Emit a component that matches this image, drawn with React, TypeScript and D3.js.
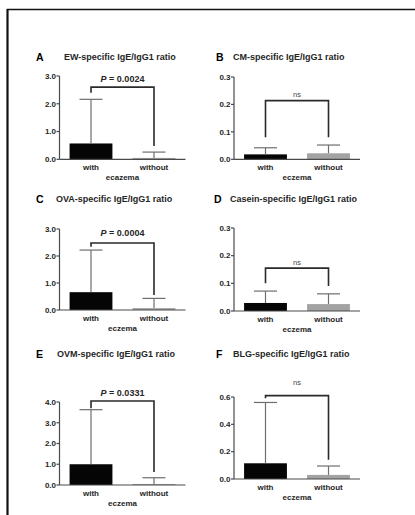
import React from 'react';
import * as d3 from 'd3';

// values
const LETTERS = ['A', 'B', 'C', 'D', 'E', 'F'];
const TITLES = [
  'EW-specific IgE/IgG1 ratio',
  'CM-specific IgE/IgG1 ratio',
  'OVA-specific IgE/IgG1 ratio',
  'Casein-specific IgE/IgG1 ratio',
  'OVM-specific IgE/IgG1 ratio',
  'BLG-specific IgE/IgG1 ratio',
];
const GROUPS = ['with', 'without'];
const GROUP_TITLES = ['ecazema', 'eczema', 'eczema', 'eczema', 'eczema', 'eczema'];
const MEANS = [[0.57, 0.05], [0.018, 0.022], [0.66, 0.07], [0.029, 0.025], [1.0, 0.05], [0.115, 0.03]];
const UPPER = [[2.16, 0.26], [0.042, 0.052], [2.22, 0.43], [0.072, 0.062], [3.63, 0.35], [0.56, 0.095]];
const Y_MAX = [3, 0.3, 3, 0.3, 4, 0.6];
const Y_TICKS = [
  [0, 1, 2, 3],
  [0, 0.1, 0.2, 0.3],
  [0, 1, 2, 3],
  [0, 0.1, 0.2, 0.3],
  [0, 1, 2, 3, 4],
  [0, 0.2, 0.4, 0.6],
];
const SIG_LABELS = ['P = 0.0024', 'ns', 'P = 0.0004', 'ns', 'P = 0.0331', 'ns'];
// bracket height, left leg end, right leg end
const BRACKETS = [[2.6, 2.4, 0.48], [0.214, 0.08, 0.08], [2.48, 2.34, 0.56], [0.155, 0.1, 0.09], [4.05, 3.7, 0.63], [0.61, 0.59, 0.14]];

// where each panel sits
const LAYOUT = [
  { x0: 59.5, yTop: 76, yBottom: 159.3, titleY: 60, letterX: 36, titleX: 64, sigDy: 5 },
  { x0: 234, yTop: 77, yBottom: 159.3, titleY: 60, letterX: 216, titleX: 233, sigDy: 4 },
  { x0: 59.5, yTop: 229, yBottom: 310, titleY: 202, letterX: 36, titleX: 56, sigDy: 7 },
  { x0: 234, yTop: 228, yBottom: 311, titleY: 202, letterX: 214, titleX: 230, sigDy: 3 },
  { x0: 59.5, yTop: 402, yBottom: 485, titleY: 357, letterX: 36, titleX: 57, sigDy: 5 },
  { x0: 234, yTop: 397, yBottom: 479, titleY: 357, letterX: 216, titleX: 233, sigDy: 11 },
];

const W = 415;
const H = 515;
const AXIS_W = 126;
const CAP = 23;
const FONT = "'Liberation Sans', Arial, sans-serif";
const BAR_COLORS = ['#050505', '#a3a3a3'];
const TEXT = '#262626';

function Panel({ i }: { i: number }) {
  const L = LAYOUT[i];
  const x = d3.scaleBand<string>()
    .domain(GROUPS)
    .range([L.x0, L.x0 + AXIS_W])
    .paddingInner(0.32)
    .paddingOuter(0.16);
  const y = d3.scaleLinear().domain([0, Y_MAX[i]]).range([L.yBottom, L.yTop]);
  const fmt = d3.format('.1f');
  const cx = (g: string) => (x(g) as number) + x.bandwidth() / 2;
  const [bY, legL, legR] = BRACKETS[i];
  const sig = SIG_LABELS[i];
  const isP = sig.startsWith('P');
  const midX = (cx(GROUPS[0]) + cx(GROUPS[1])) / 2;

  return (
    <g fontFamily={FONT}>
      <text x={L.letterX} y={L.titleY + 0.5} fontSize={10.5} fontWeight="bold" fill="#000">{LETTERS[i]}</text>
      <text x={L.titleX} y={L.titleY} fontSize={9} fontWeight="bold" fill={TEXT}>{TITLES[i]}</text>

      {GROUPS.map((g, j) => (
        <rect key={g} x={x(g)} y={y(MEANS[i][j])} width={x.bandwidth()}
          height={y(0) - y(MEANS[i][j])} fill={BAR_COLORS[j]} />
      ))}

      {GROUPS.map((g, j) => (
        <g key={g} stroke="#6e6e6e" strokeWidth={1.2}>
          <line x1={cx(g)} x2={cx(g)} y1={y(MEANS[i][j])} y2={y(UPPER[i][j])} />
          <line x1={cx(g) - CAP / 2} x2={cx(g) + CAP / 2} y1={y(UPPER[i][j])} y2={y(UPPER[i][j])} />
        </g>
      ))}

      {/* axes */}
      <line x1={L.x0} x2={L.x0} y1={L.yTop} y2={L.yBottom} stroke="#4a4a4a" strokeWidth={1.2} />
      <line x1={L.x0} x2={L.x0 + AXIS_W} y1={L.yBottom} y2={L.yBottom} stroke="#4a4a4a" strokeWidth={1.2} />
      {Y_TICKS[i].map((t) => (
        <g key={t}>
          <line x1={L.x0 - 3} x2={L.x0} y1={y(t)} y2={y(t)} stroke="#4a4a4a" strokeWidth={1.2} />
          <text x={L.x0 - 3.5} y={y(t) + 2.8} fontSize={8} fontWeight="bold" fill={TEXT} textAnchor="end">{fmt(t)}</text>
        </g>
      ))}
      {GROUPS.map((g) => (
        <text key={g} x={cx(g)} y={L.yBottom + 10.5} fontSize={8} fontWeight="bold" fill={TEXT} textAnchor="middle">{g}</text>
      ))}
      <text x={midX} y={L.yBottom + 20.5} fontSize={8} fontWeight="bold" fill={TEXT} textAnchor="middle">{GROUP_TITLES[i]}</text>

      {/* significance bracket */}
      <path
        d={`M${cx(GROUPS[0])},${y(legL)}V${y(bY)}H${cx(GROUPS[1])}V${y(legR)}`}
        fill="none" stroke="#2a2a2a" strokeWidth={1.6} />
      {isP ? (
        <text x={midX} y={y(bY) - L.sigDy} fontSize={9} fontWeight="bold" fill={TEXT} textAnchor="middle">
          <tspan fontStyle="italic">P</tspan>{sig.slice(1)}
        </text>
      ) : (
        <text x={midX} y={y(bY) - L.sigDy} fontSize={7.5} fill="#444" textAnchor="middle">{sig}</text>
      )}
    </g>
  );
}

export default function App() {
  return (
    <svg width={W} height={H} style={{ position: 'absolute', left: 0, top: 0, background: '#fff' }}>
      <rect width={W} height={H} fill="#fff" />
      <line x1={7} x2={W} y1={9.5} y2={9.5} stroke="#111" strokeWidth={1.6} />
      <line x1={7.5} x2={7.5} y1={9} y2={H} stroke="#111" strokeWidth={2.2} />
      {LETTERS.map((_, i) => <Panel key={i} i={i} />)}
    </svg>
  );
}
